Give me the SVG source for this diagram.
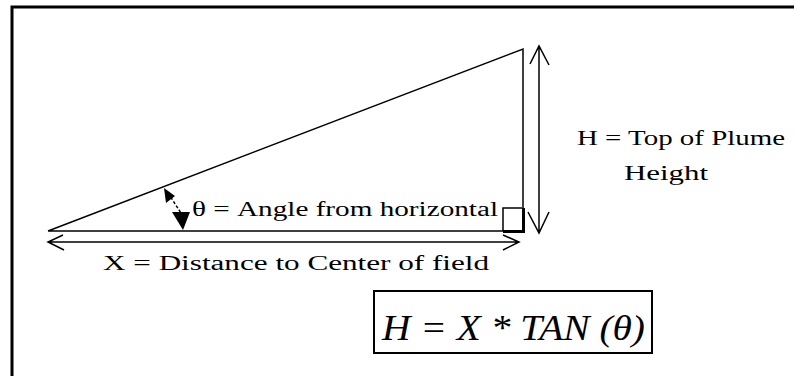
<svg xmlns="http://www.w3.org/2000/svg" width="794" height="376" viewBox="0 0 794 376">
<style>
.ln{stroke:#000;stroke-width:1.5;fill:none}
.lbl{font-family:"Liberation Serif","Times New Roman",serif;font-size:20px;fill:#000}
.fm{font-family:"Liberation Serif","Times New Roman",serif;font-size:36px;font-style:italic;fill:#000}
</style>
<rect width="794" height="376" fill="#fff"/>
<g id="frame">
<path d="M12,400 V7 H800" stroke="#000" stroke-width="3" fill="none"/>
</g>
<g id="triangle">
<path class="ln" d="M48,231 L523,49 V231 H48"/>
<path d="M503,231 V208 H522" stroke="#000" stroke-width="1.5" fill="none"/>
<path d="M503,231.5 H523.5 V208" stroke="#000" stroke-width="3" fill="none"/>
</g>
<g id="connectors">
<path class="ln" d="M48,242 H519 M63,235 L48,242 L64,250 M503,235 L519,242 L503,250"/>
<path class="ln" d="M539,46 V233 M530,64 L539,46 L549,65 M528,212 L539,233 L549,212"/>
<path d="M168,193 L181,213" stroke="#000" stroke-width="1.5" stroke-dasharray="3,2"/>
<path d="M164,188 L166,203 L175,196 Z" fill="#000"/>
<path d="M183,230 L172,212 L190,212 Z" fill="#000"/>
</g>
<g id="labels">
<text class="lbl" x="192" y="216" textLength="306" lengthAdjust="spacingAndGlyphs">θ = Angle from horizontal</text>
<text class="lbl" x="103" y="270" textLength="386" lengthAdjust="spacingAndGlyphs">X = Distance to Center of field</text>
<text class="lbl" x="577" y="145" textLength="208" lengthAdjust="spacingAndGlyphs">H = Top of Plume</text>
<text class="lbl" x="624" y="180" textLength="84" lengthAdjust="spacingAndGlyphs">Height</text>
</g>
<g id="formula">
<rect x="374" y="291" width="278" height="62" fill="none" stroke="#000" stroke-width="2"/>
<text class="fm" x="382" y="340" textLength="263" lengthAdjust="spacingAndGlyphs">H = X * TAN (θ)</text>
</g>
</svg>
